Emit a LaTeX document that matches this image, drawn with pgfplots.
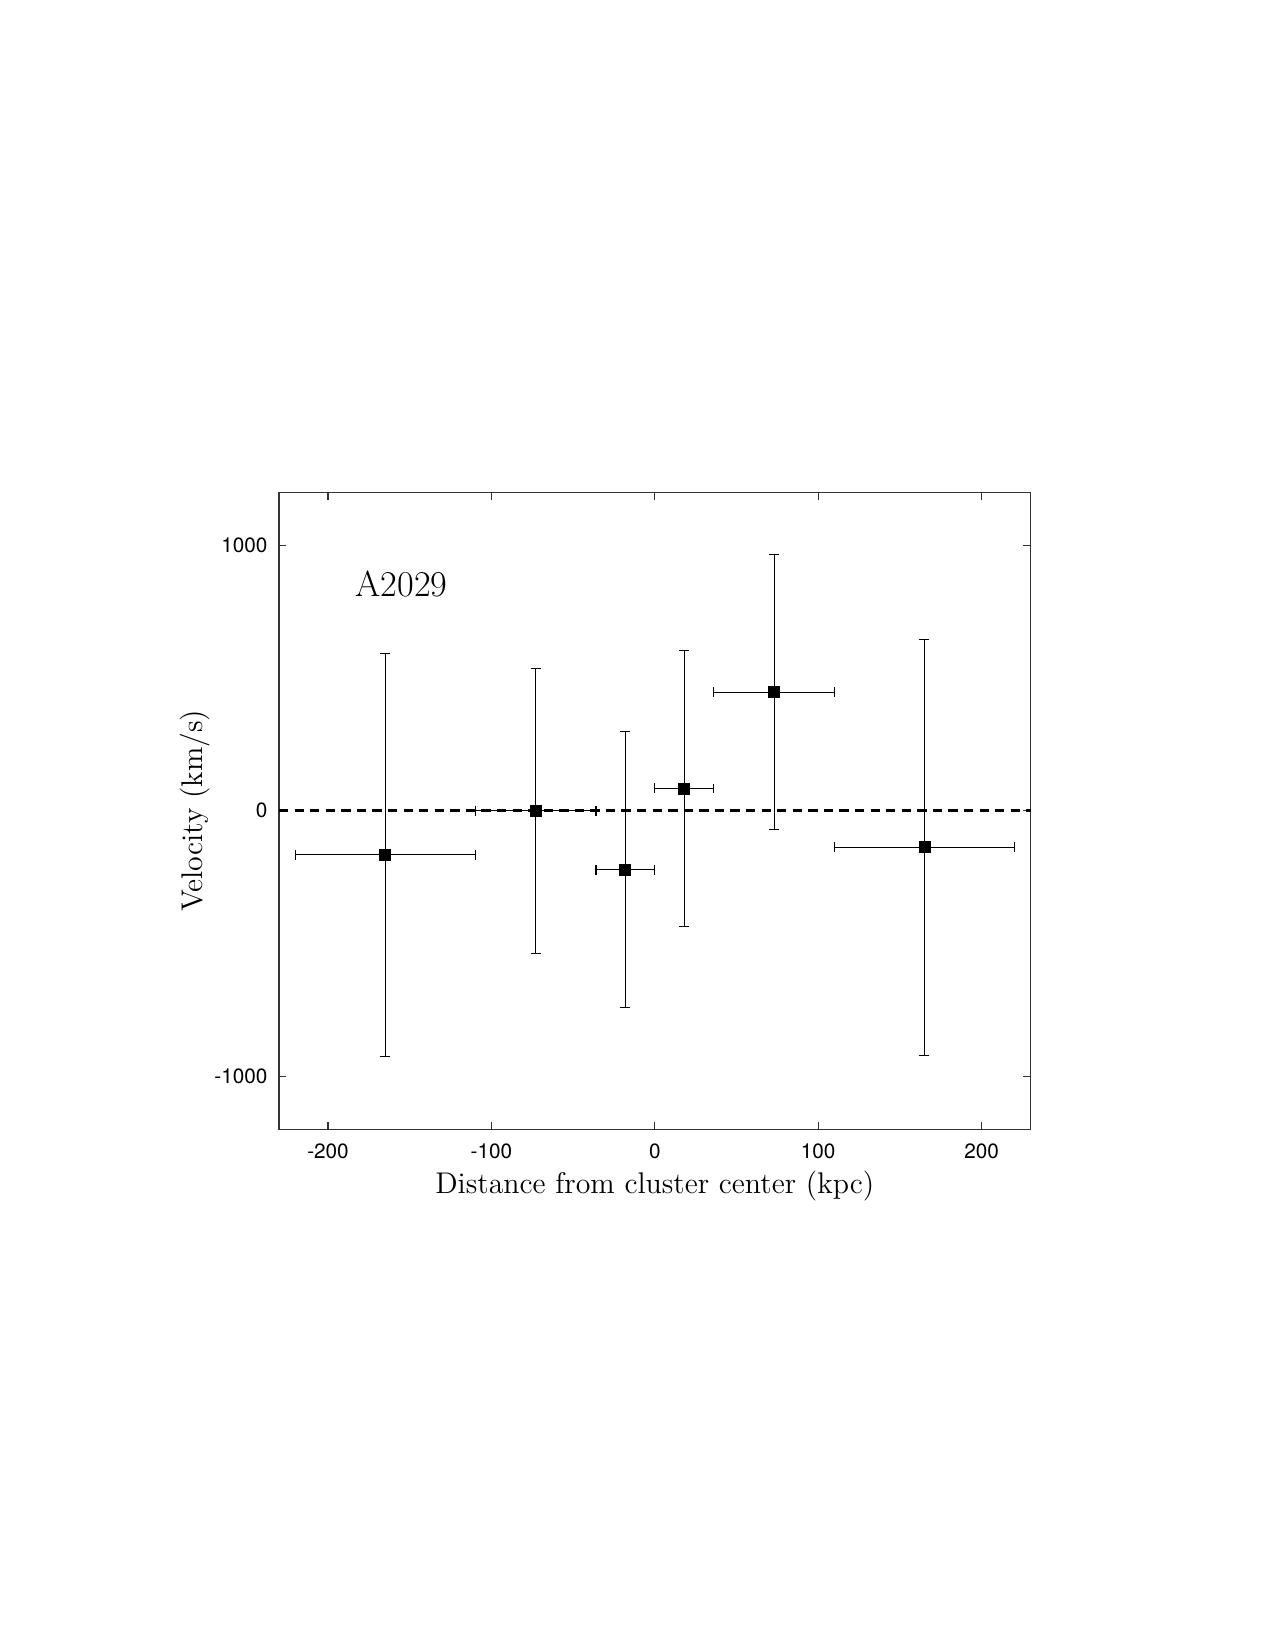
\documentclass[border=0pt]{standalone}
\usepackage{fontspec}
\usepackage{pgfplots}
\pgfplotsset{compat=1.18}
\newfontfamily\heros{TeX Gyre Heros}
\pgfplotstableread{
x      ex   y     ey
-165   55   -166  760
-73    37   0     537
-18    18   -222  519
18     18   84    519
73     37   447   519
165    55   -138  784
}\datatable
\begin{document}
\begin{tikzpicture}
\useasboundingbox (-1.86in,-3.4713in) rectangle (6.64in,7.5287in);
\begin{axis}[
  at={(0,0)}, anchor=south west,
  scale only axis, width=5.011in, height=4.247in,
  xmin=-230, xmax=230, ymin=-1200, ymax=1200,
  xtick={-200,-100,0,100,200}, xticklabels={-200,-100,0,100,200},
  ytick={-1000,0,1000}, yticklabels={-1000,0,1000},
  tick align=inside, major tick length=0.05in,
  axis line style={color=black!80, line width=0.5pt},
  every tick/.style={color=black!80, line width=0.5pt},
  xticklabel style={font=\heros\fontsize{10}{12}\selectfont, anchor=base, yshift=-14pt},
  yticklabel style={font=\heros\fontsize{10}{12}\selectfont, xshift=-2pt},
  xlabel={Distance from cluster center (kpc)},
  ylabel={Velocity (km/s)},
  every axis x label/.style={at={(axis description cs:0.5,-0.1005)}, anchor=base, font=\fontsize{14.4}{17}\selectfont},
  every axis y label/.style={at={(axis description cs:-0.1024,0.5)}, rotate=90, anchor=base, font=\fontsize{14.4}{17}\selectfont},
  clip=false,
]
\addplot[black, line width=1.4pt, dash pattern=on 4.5pt off 3pt] coordinates {(-230,0) (230,0)};
\addplot[only marks, mark=square*, mark size=2.65pt, black,
  error bars/.cd, x dir=both, x explicit, y dir=both, y explicit,
  error bar style={line width=0.5pt, black},
  error mark options={rotate=90, mark size=2.4pt, line width=0.5pt, black}]
  table[x=x, y=y, x error=ex, y error=ey] {\datatable};
\node[anchor=base west, font=\fontsize{17.5}{20}\selectfont, inner sep=0pt] at (axis cs:-183.3,808) {A2029};
\end{axis}
\end{tikzpicture}
\end{document}
